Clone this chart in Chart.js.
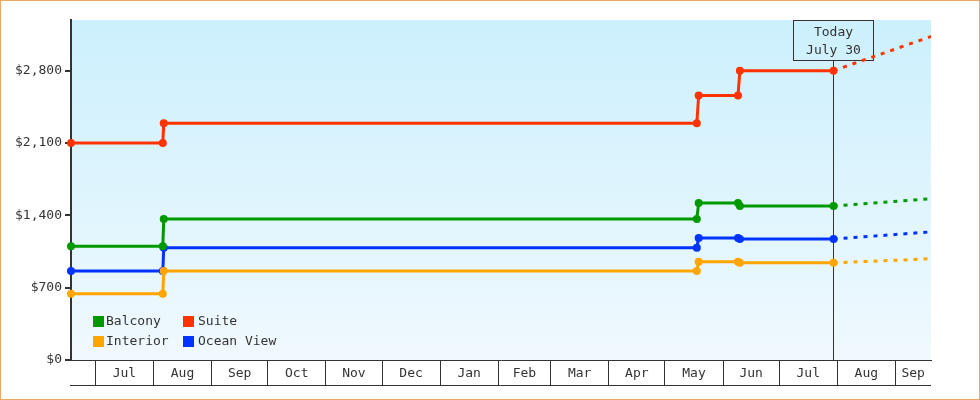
<!DOCTYPE html>
<html>
<head>
<meta charset="utf-8">
<title>Cabin Price History</title>
<script src="https://cdn.jsdelivr.net/npm/chart.js@4/dist/chart.umd.min.js"></script>
<style>
    html, body {
        margin: 0;
        padding: 0;
        background: #fff;
    }
    canvas {
        display: block;
    }
</style>
</head>
<body>
<canvas id="priceChart" width="980" height="400"></canvas>
<script>
    // Axis range and "today" marker
    const axisStart = '2022-06-18';
    const axisEnd = '2023-09-20';
    const today = '2023-07-30';
    const todayLabel = ['Today', 'July 30'];

    // Month cells along the bottom axis
    const monthStarts = ['2022-07-01', '2022-08-01', '2022-09-01', '2022-10-01', '2022-11-01',
        '2022-12-01', '2023-01-01', '2023-02-01', '2023-03-01', '2023-04-01', '2023-05-01',
        '2023-06-01', '2023-07-01', '2023-08-01', '2023-09-01'];
    const monthLabels = ['Jul', 'Aug', 'Sep', 'Oct', 'Nov', 'Dec', 'Jan', 'Feb', 'Mar', 'Apr',
        'May', 'Jun', 'Jul', 'Aug', 'Sep'];

    const yTicks = [0, 700, 1400, 2100, 2800];
    const yMax = 3290;

    // Price history
    const priceDates = ['2022-06-18', '2022-08-06', '2022-08-06T12:00Z', '2023-05-18', '2023-05-19',
        '2023-06-09', '2023-06-10', '2023-07-30'];
    const balcony = [1100, 1100, 1365, 1365, 1520, 1520, 1490, 1490];
    const suite = [2100, 2100, 2290, 2290, 2560, 2560, 2800, 2800];
    const interior = [640, 640, 860, 860, 950, 950, 940, 940];
    const oceanView = [860, 860, 1085, 1085, 1180, 1180, 1170, 1170];

    // Forecast (dotted)
    const forecastDates = ['2023-07-30', '2023-09-20'];
    const balconyForecast = [1490, 1560];
    const suiteForecast = [2800, 3130];
    const interiorForecast = [940, 980];
    const oceanViewForecast = [1170, 1240];

    const series = [
        { label: 'Balcony', color: '#009900', data: balcony, forecast: balconyForecast },
        { label: 'Suite', color: '#ff3300', data: suite, forecast: suiteForecast },
        { label: 'Interior', color: '#ffa500', data: interior, forecast: interiorForecast },
        { label: 'Ocean View', color: '#0033ff', data: oceanView, forecast: oceanViewForecast }
    ];

    const FONT = '"DejaVu Sans Mono", monospace';
    const INK = '#333';

    // days since the start of the axis
    const day = s => (Date.parse(s) - Date.parse(axisStart)) / 86400000;
    const toPoints = (dates, values) => dates.map((d, i) => ({ x: day(d), y: values[i] }));

    // boundaries get a separator line, midpoints get the month name
    const boundaryValues = monthStarts.map(day);
    const cellEnds = boundaryValues.slice(1).concat([day(axisEnd)]);
    const labelAt = new Map();
    boundaryValues.forEach((b, i) => labelAt.set((b + cellEnds[i]) / 2, monthLabels[i]));
    const xTickValues = boundaryValues.concat([...labelAt.keys()]).sort((a, b) => a - b);

    const datasets = [];
    series.forEach(s => {
        datasets.push({
            label: s.label,
            data: toPoints(priceDates, s.data),
            borderColor: s.color,
            backgroundColor: s.color,
            borderWidth: 3,
            pointRadius: 4,
            pointBorderWidth: 0,
            pointBackgroundColor: s.color,
            clip: false,
            order: 0
        });
    });
    series.forEach(s => {
        datasets.push({
            label: s.label + ' forecast',
            data: toPoints(forecastDates, s.forecast),
            borderColor: s.color,
            borderWidth: 3,
            borderDash: [4, 6],
            pointRadius: 0,
            order: 1
        });
    });

    const frame = {
        id: 'frame',
        beforeDraw(chart) {
            const { ctx, chartArea: a } = chart;
            ctx.save();
            ctx.fillStyle = '#fff';
            ctx.fillRect(0, 0, chart.width, chart.height);
            const g = ctx.createLinearGradient(0, a.top, 0, a.bottom);
            g.addColorStop(0, '#ccf0fd');
            g.addColorStop(1, '#f0f9fe');
            ctx.fillStyle = g;
            ctx.fillRect(a.left, a.top, a.right - a.left, a.bottom - a.top);
            ctx.strokeStyle = '#e9a863';
            ctx.lineWidth = 1;
            ctx.strokeRect(0.5, 0.5, chart.width - 1, chart.height - 1);
            // bottom line of the month row
            ctx.strokeStyle = INK;
            ctx.beginPath();
            ctx.moveTo(a.left - 1, a.bottom + 25.5);
            ctx.lineTo(a.right, a.bottom + 25.5);
            ctx.stroke();
            ctx.restore();
        }
    };

    const todayMarker = {
        id: 'todayMarker',
        beforeDatasetsDraw(chart) {
            const { ctx, chartArea: a } = chart;
            const x = Math.floor(chart.scales.x.getPixelForValue(day(today))) + 0.5;
            const boxW = 80, boxH = 40;
            const top = a.top + 0.5;
            ctx.save();
            ctx.strokeStyle = INK;
            ctx.lineWidth = 1;
            ctx.beginPath();
            ctx.moveTo(x, top + boxH);
            ctx.lineTo(x, a.bottom);
            ctx.stroke();
            ctx.strokeRect(x - boxW / 2, top, boxW, boxH);
            ctx.fillStyle = INK;
            ctx.font = '13px ' + FONT;
            ctx.textAlign = 'center';
            ctx.textBaseline = 'middle';
            ctx.fillText(todayLabel[0], x, top + 12);
            ctx.fillText(todayLabel[1], x, top + 30);
            ctx.restore();
        }
    };

    const insideLegend = {
        id: 'insideLegend',
        afterDatasetsDraw(chart) {
            const { ctx, chartArea: a } = chart;
            ctx.save();
            ctx.font = '13px ' + FONT;
            ctx.textBaseline = 'middle';
            ctx.textAlign = 'left';
            series.forEach((s, i) => {
                const col = i % 2, row = Math.floor(i / 2);
                const x = a.left + 22 + col * 90;
                const y = a.bottom - 44 + row * 20;
                ctx.fillStyle = s.color;
                ctx.fillRect(x, y, 11, 11);
                ctx.fillStyle = INK;
                ctx.fillText(s.label, x + 13 + col * 2, y + 6);
            });
            ctx.restore();
        }
    };

    new Chart(document.getElementById('priceChart'), {
        type: 'line',
        data: { datasets },
        options: {
            responsive: false,
            animation: false,
            events: [],
            layout: { padding: { top: 20, right: 49, bottom: 0, left: 0 } },
            font: { family: FONT, size: 13 },
            plugins: {
                legend: { display: false },
                tooltip: { enabled: false }
            },
            elements: { line: { tension: 0 } },
            scales: {
                x: {
                    type: 'linear',
                    min: 0,
                    max: day(axisEnd),
                    afterBuildTicks: scale => {
                        scale.ticks = xTickValues.map(v => ({ value: v }));
                    },
                    afterFit: scale => { scale.height = 40; },
                    border: { display: true, color: INK, width: 1 },
                    grid: {
                        drawOnChartArea: false,
                        tickLength: 25,
                        lineWidth: 1,
                        color: c => boundaryValues.includes(c.tick && c.tick.value) ? INK : 'rgba(0,0,0,0)'
                    },
                    ticks: {
                        autoSkip: false,
                        maxRotation: 0,
                        minRotation: 0,
                        padding: -19,
                        color: INK,
                        font: { family: FONT, size: 13 },
                        callback: v => labelAt.get(v) || ''
                    }
                },
                y: {
                    min: 0,
                    max: yMax,
                    afterBuildTicks: scale => {
                        scale.ticks = yTicks.map(v => ({ value: v }));
                    },
                    afterFit: scale => { scale.width = 71; },
                    border: { display: true, color: INK, width: 2 },
                    grid: {
                        drawOnChartArea: false,
                        tickLength: 6,
                        lineWidth: 2,
                        color: INK
                    },
                    ticks: {
                        padding: 3,
                        color: INK,
                        font: { family: FONT, size: 13 },
                        callback: v => '$' + v.toLocaleString('en-US')
                    }
                }
            }
        },
        plugins: [frame, todayMarker, insideLegend]
    });
</script>
</body>
</html>
